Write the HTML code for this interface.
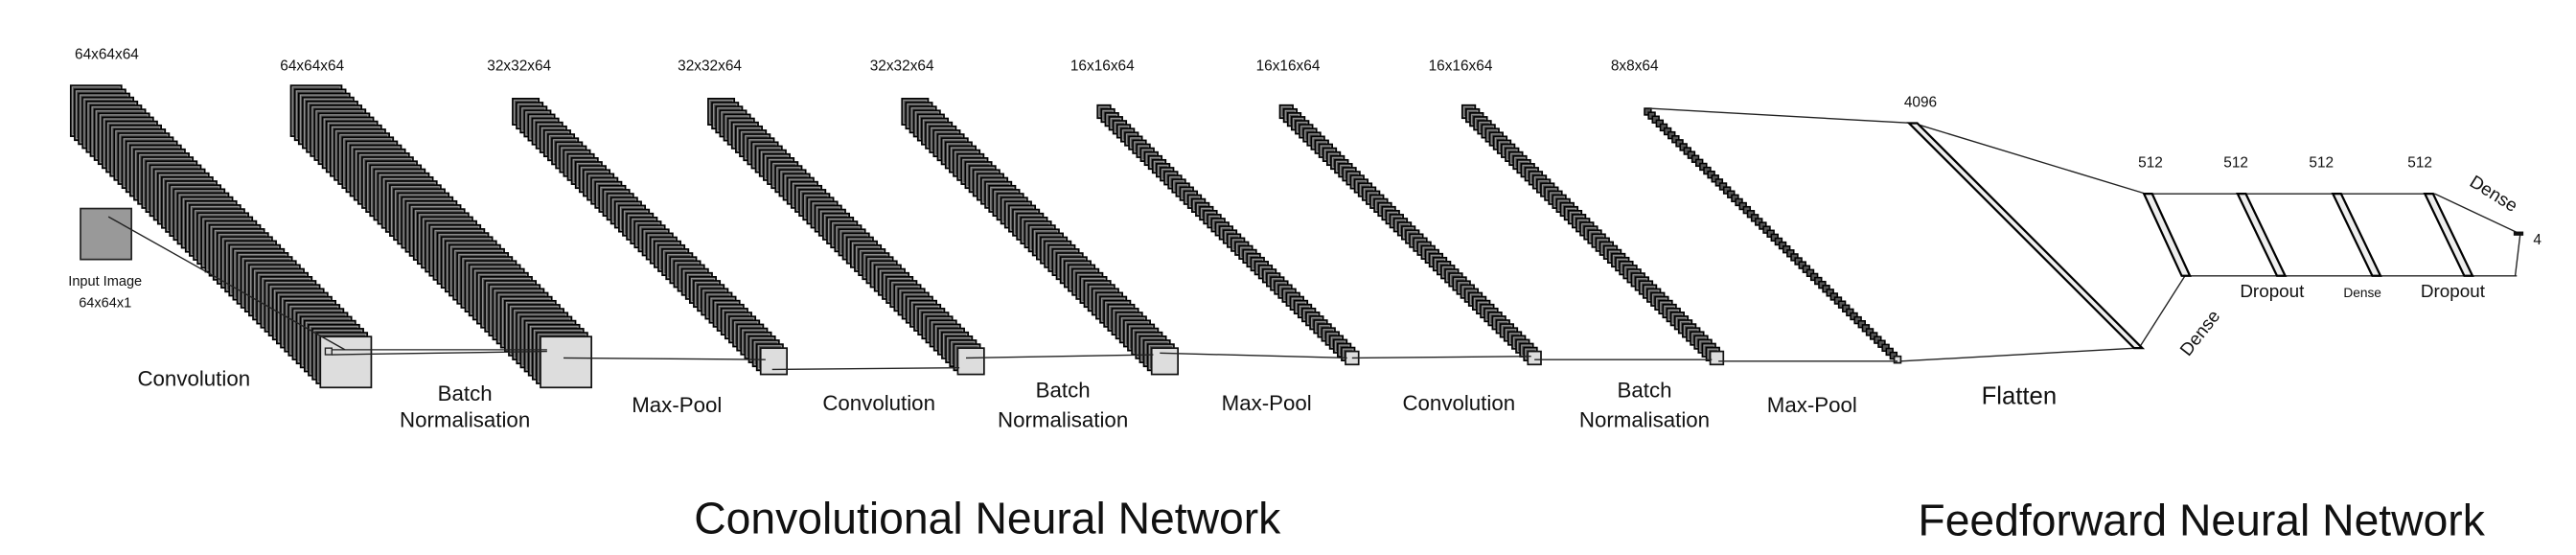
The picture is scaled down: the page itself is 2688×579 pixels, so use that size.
<!DOCTYPE html>
<html><head><meta charset="utf-8"><style>
html,body{margin:0;padding:0;background:#fff;}
svg{display:block;}
text{font-family:"Liberation Sans Narrow","Liberation Sans",sans-serif;fill:#111;}
</style></head><body>
<svg id="s" width="2688" height="579" viewBox="0 0 1568 338" preserveAspectRatio="none" xmlns="http://www.w3.org/2000/svg">
<rect width="1568" height="338" fill="#fff"/>
<g id="stacks"></g>
<rect x="49" y="127" width="31" height="31" fill="#999" stroke="#222" stroke-width="1"/>
<g stroke="#222" stroke-width="0.8" fill="none">
<line x1="66" y1="132" x2="210" y2="213"/>
<rect x="198" y="212" width="4" height="4"/>
<line x1="202" y1="213" x2="333" y2="213"/>
<line x1="202" y1="216" x2="333" y2="214"/>
<line x1="343" y1="218" x2="466" y2="219"/>
<line x1="470" y1="225" x2="584" y2="224"/>
<line x1="588" y1="218" x2="702" y2="216"/>
<line x1="706" y1="215" x2="820" y2="218"/>
<line x1="823" y1="218" x2="932" y2="217"/>
<line x1="934" y1="219" x2="1042" y2="219"/>
<line x1="1046" y1="220" x2="1155" y2="220"/>
<line x1="1004" y1="66" x2="1164" y2="75"/>
<line x1="1157" y1="220" x2="1300" y2="212"/>
<line x1="1168" y1="76" x2="1306" y2="118"/>
<line x1="1302" y1="212" x2="1330" y2="168"/>
<line x1="1306" y1="118" x2="1482" y2="118"/>
<line x1="1330" y1="168" x2="1532" y2="168"/>
<line x1="1482" y1="118" x2="1533" y2="142"/>
<line x1="1531" y1="168" x2="1534" y2="143"/>
</g>
<g stroke="#000" stroke-width="1.3" fill="#eee">
<polygon points="1162,75 1167,75 1304,212 1299,212"/>
<polygon points="1305,118 1310,118 1333,168 1328,168"/>
<polygon points="1362,118 1367,118 1391,168 1386,168"/>
<polygon points="1420,118 1425,118 1449,168 1444,168"/>
<polygon points="1476,118 1481,118 1505,168 1500,168"/>
</g>
<rect x="1530" y="141" width="6" height="2.5" fill="#111"/>
<g font-size="9" text-anchor="middle">
<text x="65" y="36">64x64x64</text>
<text x="190" y="43">64x64x64</text>
<text x="316" y="43">32x32x64</text>
<text x="432" y="43">32x32x64</text>
<text x="549" y="43">32x32x64</text>
<text x="671" y="43">16x16x64</text>
<text x="784" y="43">16x16x64</text>
<text x="889" y="43">16x16x64</text>
<text x="995" y="43">8x8x64</text>
<text x="1169" y="65">4096</text>
<text x="1309" y="102">512</text>
<text x="1361" y="102">512</text>
<text x="1413" y="102">512</text>
<text x="1473" y="102">512</text>
<text x="1542" y="149" text-anchor="start">4</text>
<text x="64" y="174" font-size="8.5">Input Image</text>
<text x="64" y="187" font-size="8.5">64x64x1</text>
<text x="1438" y="181" font-size="8">Dense</text>
</g>
<g font-size="11" text-anchor="middle">
<text x="1383" y="181">Dropout</text>
<text x="1493" y="181">Dropout</text>
<text transform="translate(1342,205) rotate(-52)">Dense</text>
<text transform="translate(1516,121) rotate(32)">Dense</text>
</g>
<g font-size="13" text-anchor="middle">
<text x="118" y="235">Convolution</text>
<text x="283" y="244">Batch</text>
<text x="283" y="260">Normalisation</text>
<text x="412" y="251">Max-Pool</text>
<text x="535" y="250">Convolution</text>
<text x="647" y="242">Batch</text>
<text x="647" y="260">Normalisation</text>
<text x="771" y="250">Max-Pool</text>
<text x="888" y="250">Convolution</text>
<text x="1001" y="242">Batch</text>
<text x="1001" y="260">Normalisation</text>
<text x="1103" y="251">Max-Pool</text>
<text x="1229" y="246" font-size="15">Flatten</text>
</g>
<g font-size="27" text-anchor="middle">
<text x="601" y="325">Convolutional Neural Network</text>
<text x="1340" y="326">Feedforward Neural Network</text>
</g>
</svg>
<script>
(function(){
var g=document.getElementById('stacks'),NS='http://www.w3.org/2000/svg';
function stack(x0,y0,x1,y1,s,n){
 for(var i=0;i<n;i++){
  var t=i/(n-1),x=x0+(x1-x0)*t,y=y0+(y1-y0)*t;
  var r=document.createElementNS(NS,'rect');
  r.setAttribute('x',x);r.setAttribute('y',y);r.setAttribute('width',s);r.setAttribute('height',s);
  if(i==n-1){r.setAttribute('fill','#ddd');r.setAttribute('stroke','#111');r.setAttribute('stroke-width','1');g.appendChild(r);}
  else{r.setAttribute('fill','#555');r.setAttribute('stroke','#000');r.setAttribute('stroke-width','0.9');
   g.appendChild(r);
   if(s>5){var q=document.createElementNS(NS,'rect');
   q.setAttribute('x',x+1);q.setAttribute('y',y+1);q.setAttribute('width',s-2);q.setAttribute('height',s-2);
   q.setAttribute('fill','none');q.setAttribute('stroke','#aaa');q.setAttribute('stroke-width','0.4');
   g.appendChild(q);}
  }
 }
}
stack(43,52,195,205,31,64);
stack(177,52,329,205,31,64);
stack(312,60,463,212,16,64);
stack(431,60,583,212,16,64);
stack(549,60,701,212,16,64);
stack(668,64,819,214,8,64);
stack(779,64,930,214,8,64);
stack(890,64,1041,214,8,64);
stack(1001,66,1153,217,4,64);
})();
</script>
</body></html>
